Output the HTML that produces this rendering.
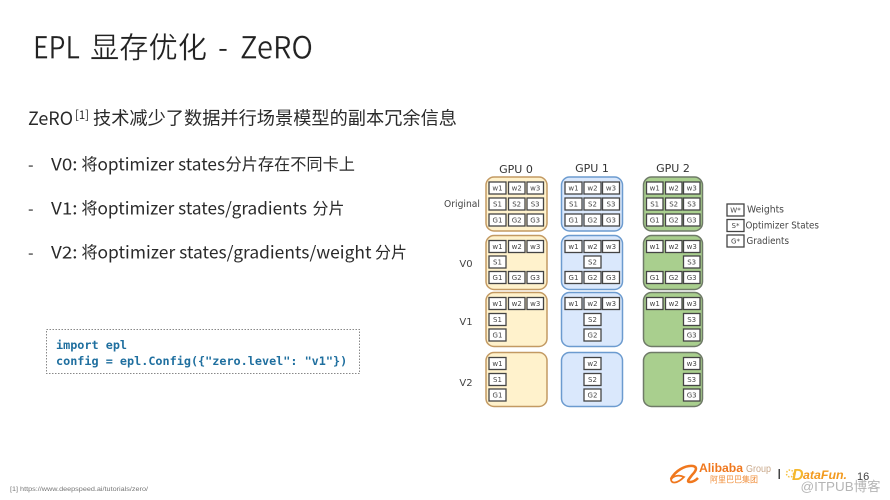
<!DOCTYPE html>
<html><head><meta charset="utf-8"><style>
html,body{margin:0;padding:0;background:#fff}
svg{display:block;font-family:"Liberation Sans","Noto Sans CJK SC",sans-serif;filter:blur(.3px)}
.t{font-family:"Noto Sans CJK SC",sans-serif;fill:#2a2a2a}
.ti{font-family:"Noto Sans CJK SC",sans-serif;fill:#222;stroke:#fff;stroke-width:.3px}
.c rect{fill:#fff;stroke:#444;stroke-width:1.3}
.c text{font-size:7px;fill:#444;text-anchor:middle;font-family:"DejaVu Sans",sans-serif}
.h{font-size:11px;fill:#333;text-anchor:middle;font-family:"DejaVu Sans",sans-serif}
.l{font-size:10px;fill:#444;text-anchor:middle;font-family:"DejaVu Sans",sans-serif}
.y{fill:#fff2cc;stroke:#c39a63;stroke-width:1.5}
.b{fill:#dae8fc;stroke:#6c9bcf;stroke-width:1.5}
.g{fill:#a9cf8e;stroke:#6f7a68;stroke-width:1.5}
</style></head><body>
<svg width="890" height="500" viewBox="0 0 890 500" xmlns="http://www.w3.org/2000/svg">
<rect width="890" height="500" fill="#fff"/>
<text class="ti" x="33" y="58.500" font-size="31" textLength="47" lengthAdjust="spacingAndGlyphs">EPL</text>
<text class="ti" x="90" y="58" font-size="29.500" textLength="117" lengthAdjust="spacingAndGlyphs">显存优化</text>
<text class="ti" x="218" y="58.500" font-size="31" textLength="10" lengthAdjust="spacingAndGlyphs">-</text>
<text class="ti" x="240" y="58.500" font-size="31" textLength="73" lengthAdjust="spacingAndGlyphs">ZeRO</text>

<text class="t" x="28" y="125" font-size="18.500" textLength="45" lengthAdjust="spacingAndGlyphs">ZeRO</text>
<text class="t" x="75" y="119" font-size="12" textLength="14" lengthAdjust="spacingAndGlyphs">[1]</text>
<text class="t" x="93" y="124.500" font-size="18.200" textLength="364" lengthAdjust="spacingAndGlyphs">技术减少了数据并行场景模型的副本冗余信息</text>

<text class="t" x="28" y="170.500" font-size="16">-</text>
<text class="t" x="51" y="170.500" font-size="17" textLength="26.500" lengthAdjust="spacingAndGlyphs">V0:</text>
<text class="t" x="81.500" y="170" font-size="16.200">将</text>
<text class="t" x="97.500" y="170.500" font-size="17" textLength="127.500" lengthAdjust="spacingAndGlyphs">optimizer states</text>
<text class="t" x="225.500" y="170" font-size="16.200" textLength="129.500" lengthAdjust="spacingAndGlyphs">分片存在不同卡上</text>

<text class="t" x="28" y="214.500" font-size="16">-</text>
<text class="t" x="51" y="214.500" font-size="17" textLength="26.500" lengthAdjust="spacingAndGlyphs">V1:</text>
<text class="t" x="81.500" y="214" font-size="16.200">将</text>
<text class="t" x="97.500" y="214.500" font-size="17" textLength="209.500" lengthAdjust="spacingAndGlyphs">optimizer states/gradients</text>
<text class="t" x="312.500" y="214" font-size="16" textLength="32" lengthAdjust="spacingAndGlyphs">分片</text>

<text class="t" x="28" y="258.500" font-size="16">-</text>
<text class="t" x="51" y="258.500" font-size="17" textLength="26.500" lengthAdjust="spacingAndGlyphs">V2:</text>
<text class="t" x="81.500" y="258" font-size="16.200">将</text>
<text class="t" x="97.500" y="258.500" font-size="17" textLength="274" lengthAdjust="spacingAndGlyphs">optimizer states/gradients/weight</text>
<text class="t" x="375" y="258" font-size="16" textLength="32" lengthAdjust="spacingAndGlyphs">分片</text>

<rect x="46.500" y="329.500" width="313" height="44" fill="#fff" stroke="#888" stroke-width="1" stroke-dasharray="1.500 1.500"/>
<g font-family="'DejaVu Sans Mono',monospace" font-weight="bold" font-size="11.800" fill="#1f6f9f">
<text x="56" y="349">import epl</text>
<text x="56" y="365">config = epl.Config({"zero.level": "v1"})</text>
</g>

<text class="h" x="516" y="173">GPU 0</text>
<text class="h" x="592" y="172">GPU 1</text>
<text class="h" x="673" y="172">GPU 2</text>
<text class="l" x="462" y="207" textLength="36" lengthAdjust="spacingAndGlyphs">Original</text>
<text class="l" x="466" y="267">V0</text>
<text class="l" x="466" y="325">V1</text>
<text class="l" x="466" y="386">V2</text>

<rect class="y" x="486" y="177" width="61" height="54" rx="8"/>
<rect class="y" x="486" y="235.500" width="61" height="54" rx="8"/>
<rect class="y" x="486" y="292.500" width="61" height="54" rx="8"/>
<rect class="y" x="486" y="352.500" width="61" height="54" rx="8"/>
<rect class="b" x="561.500" y="177" width="61" height="54" rx="8"/>
<rect class="b" x="561.500" y="235.500" width="61" height="54" rx="8"/>
<rect class="b" x="561.500" y="292.500" width="61" height="54" rx="8"/>
<rect class="b" x="561.500" y="352.500" width="61" height="54" rx="8"/>
<rect class="g" x="643.500" y="177" width="59" height="54" rx="8"/>
<rect class="g" x="643.500" y="235.500" width="59" height="54" rx="8"/>
<rect class="g" x="643.500" y="292.500" width="59" height="54" rx="8"/>
<rect class="g" x="643.500" y="352.500" width="59" height="54" rx="8"/>

<g class="c">
<!-- GPU 0 -->
<rect x="489" y="182" width="17" height="12"/><text x="497.500" y="190.500">w1</text>
<rect x="508.500" y="182" width="16.500" height="12"/><text x="516.700" y="190.500">w2</text>
<rect x="527" y="182" width="16.500" height="12"/><text x="535.200" y="190.500">w3</text>
<rect x="489" y="198" width="17" height="12"/><text x="497.500" y="206.500">S1</text>
<rect x="508.500" y="198" width="16.500" height="12"/><text x="516.700" y="206.500">S2</text>
<rect x="527" y="198" width="16.500" height="12"/><text x="535.200" y="206.500">S3</text>
<rect x="489" y="214" width="17" height="12"/><text x="497.500" y="222.500">G1</text>
<rect x="508.500" y="214" width="16.500" height="12"/><text x="516.700" y="222.500">G2</text>
<rect x="527" y="214" width="16.500" height="12"/><text x="535.200" y="222.500">G3</text>

<rect x="489" y="240.500" width="17" height="12"/><text x="497.500" y="249">w1</text>
<rect x="508.500" y="240.500" width="16.500" height="12"/><text x="516.700" y="249">w2</text>
<rect x="527" y="240.500" width="16.500" height="12"/><text x="535.200" y="249">w3</text>
<rect x="489" y="256" width="17" height="12"/><text x="497.500" y="264.500">S1</text>
<rect x="489" y="271.500" width="17" height="12"/><text x="497.500" y="280">G1</text>
<rect x="508.500" y="271.500" width="16.500" height="12"/><text x="516.700" y="280">G2</text>
<rect x="527" y="271.500" width="16.500" height="12"/><text x="535.200" y="280">G3</text>

<rect x="489" y="297.500" width="17" height="12"/><text x="497.500" y="306">w1</text>
<rect x="508.500" y="297.500" width="16.500" height="12"/><text x="516.700" y="306">w2</text>
<rect x="527" y="297.500" width="16.500" height="12"/><text x="535.200" y="306">w3</text>
<rect x="489" y="313.500" width="17" height="12"/><text x="497.500" y="322">S1</text>
<rect x="489" y="329" width="17" height="12"/><text x="497.500" y="337.500">G1</text>

<rect x="489" y="357.500" width="17" height="12"/><text x="497.500" y="366">w1</text>
<rect x="489" y="373.500" width="17" height="12"/><text x="497.500" y="382">S1</text>
<rect x="489" y="389" width="17" height="12"/><text x="497.500" y="397.500">G1</text>

<!-- GPU 1 -->
<rect x="565" y="182" width="17" height="12"/><text x="573.500" y="190.500">w1</text>
<rect x="584" y="182" width="17" height="12"/><text x="592.500" y="190.500">w2</text>
<rect x="602.500" y="182" width="17" height="12"/><text x="611" y="190.500">w3</text>
<rect x="565" y="198" width="17" height="12"/><text x="573.500" y="206.500">S1</text>
<rect x="584" y="198" width="17" height="12"/><text x="592.500" y="206.500">S2</text>
<rect x="602.500" y="198" width="17" height="12"/><text x="611" y="206.500">S3</text>
<rect x="565" y="214" width="17" height="12"/><text x="573.500" y="222.500">G1</text>
<rect x="584" y="214" width="17" height="12"/><text x="592.500" y="222.500">G2</text>
<rect x="602.500" y="214" width="17" height="12"/><text x="611" y="222.500">G3</text>

<rect x="565" y="240.500" width="17" height="12"/><text x="573.500" y="249">w1</text>
<rect x="584" y="240.500" width="17" height="12"/><text x="592.500" y="249">w2</text>
<rect x="602.500" y="240.500" width="17" height="12"/><text x="611" y="249">w3</text>
<rect x="584" y="256" width="17" height="12"/><text x="592.500" y="264.500">S2</text>
<rect x="565" y="271.500" width="17" height="12"/><text x="573.500" y="280">G1</text>
<rect x="584" y="271.500" width="17" height="12"/><text x="592.500" y="280">G2</text>
<rect x="602.500" y="271.500" width="17" height="12"/><text x="611" y="280">G3</text>

<rect x="565" y="297.500" width="17" height="12"/><text x="573.500" y="306">w1</text>
<rect x="584" y="297.500" width="17" height="12"/><text x="592.500" y="306">w2</text>
<rect x="602.500" y="297.500" width="17" height="12"/><text x="611" y="306">w3</text>
<rect x="584" y="313.500" width="17" height="12"/><text x="592.500" y="322">S2</text>
<rect x="584" y="329" width="17" height="12"/><text x="592.500" y="337.500">G2</text>

<rect x="584" y="357.500" width="17" height="12"/><text x="592.500" y="366">w2</text>
<rect x="584" y="373.500" width="17" height="12"/><text x="592.500" y="382">S2</text>
<rect x="584" y="389" width="17" height="12"/><text x="592.500" y="397.500">G2</text>

<!-- GPU 2 -->
<rect x="646.500" y="182" width="16.500" height="12"/><text x="654.700" y="190.500">w1</text>
<rect x="665.500" y="182" width="16.500" height="12"/><text x="673.700" y="190.500">w2</text>
<rect x="683.500" y="182" width="16.500" height="12"/><text x="691.700" y="190.500">w3</text>
<rect x="646.500" y="198" width="16.500" height="12"/><text x="654.700" y="206.500">S1</text>
<rect x="665.500" y="198" width="16.500" height="12"/><text x="673.700" y="206.500">S2</text>
<rect x="683.500" y="198" width="16.500" height="12"/><text x="691.700" y="206.500">S3</text>
<rect x="646.500" y="214" width="16.500" height="12"/><text x="654.700" y="222.500">G1</text>
<rect x="665.500" y="214" width="16.500" height="12"/><text x="673.700" y="222.500">G2</text>
<rect x="683.500" y="214" width="16.500" height="12"/><text x="691.700" y="222.500">G3</text>

<rect x="646.500" y="240.500" width="16.500" height="12"/><text x="654.700" y="249">w1</text>
<rect x="665.500" y="240.500" width="16.500" height="12"/><text x="673.700" y="249">w2</text>
<rect x="683.500" y="240.500" width="16.500" height="12"/><text x="691.700" y="249">w3</text>
<rect x="683.500" y="256" width="16.500" height="12"/><text x="691.700" y="264.500">S3</text>
<rect x="646.500" y="271.500" width="16.500" height="12"/><text x="654.700" y="280">G1</text>
<rect x="665.500" y="271.500" width="16.500" height="12"/><text x="673.700" y="280">G2</text>
<rect x="683.500" y="271.500" width="16.500" height="12"/><text x="691.700" y="280">G3</text>

<rect x="646.500" y="297.500" width="16.500" height="12"/><text x="654.700" y="306">w1</text>
<rect x="665.500" y="297.500" width="16.500" height="12"/><text x="673.700" y="306">w2</text>
<rect x="683.500" y="297.500" width="16.500" height="12"/><text x="691.700" y="306">w3</text>
<rect x="683.500" y="313.500" width="16.500" height="12"/><text x="691.700" y="322">S3</text>
<rect x="683.500" y="329" width="16.500" height="12"/><text x="691.700" y="337.500">G3</text>

<rect x="683.500" y="357.500" width="16.500" height="12"/><text x="691.700" y="366">w3</text>
<rect x="683.500" y="373.500" width="16.500" height="12"/><text x="691.700" y="382">S3</text>
<rect x="683.500" y="389" width="16.500" height="12"/><text x="691.700" y="397.500">G3</text>

<!-- Legend -->
<rect x="727" y="204" width="17" height="12"/><text x="735.500" y="212.500">W*</text>
<rect x="727" y="219.500" width="17" height="12"/><text x="735.500" y="228">S*</text>
<rect x="727" y="235" width="17" height="12"/><text x="735.500" y="243.500">G*</text>
</g>
<g font-family="'DejaVu Sans',sans-serif" font-size="9.500" fill="#444">
<text x="747" y="212.500" textLength="37" lengthAdjust="spacingAndGlyphs">Weights</text>
<text x="745.500" y="228.500" textLength="73.500" lengthAdjust="spacingAndGlyphs">Optimizer States</text>
<text x="746.500" y="244" textLength="42.500" lengthAdjust="spacingAndGlyphs">Gradients</text>
</g>

<text x="10" y="491" font-size="6.200" fill="#777" textLength="138" lengthAdjust="spacingAndGlyphs">[1] https://www.deepspeed.ai/tutorials/zero/</text>

<!-- Logos -->
<path d="M671 479 C675 471 685 465 693 466 C698 467 696 471 692 475 C689 479 686 482 690 482 C693 482 696 480 698 478" fill="none" stroke="#f0781e" stroke-width="2.600"/>
<path d="M671 479 C671 484 677 484 684 477 C680 475 675 475 671 479Z" fill="none" stroke="#f0781e" stroke-width="1.800"/>
<text x="699" y="472" font-size="11.500" font-weight="bold" fill="#f0781e" textLength="44" lengthAdjust="spacingAndGlyphs">Alibaba</text>
<text x="746" y="472" font-size="10" fill="#c9a88a" textLength="25" lengthAdjust="spacingAndGlyphs">Group</text>
<text x="710" y="482.500" font-size="8.500" fill="#f0903e" font-family="'Noto Sans CJK SC',sans-serif" textLength="48" lengthAdjust="spacingAndGlyphs">阿里巴巴集团</text>
<rect x="778.500" y="469" width="1.500" height="10" fill="#444"/>
<circle cx="790" cy="473.500" r="3.500" fill="none" stroke="#f5c242" stroke-width="1.500" stroke-dasharray="1.500 1.500"/>
<text x="792" y="480" font-size="16" font-weight="bold" font-style="italic" fill="#f5b82e">D</text>
<text x="803" y="479" font-size="11.500" font-weight="bold" font-style="italic" fill="#f29a1f" textLength="44" lengthAdjust="spacingAndGlyphs">ataFun.</text>
<text x="857" y="480" font-size="11" fill="#444">16</text>
<text x="800.500" y="491" font-size="13" fill="#b5b5b5" font-family="'Liberation Sans','Noto Sans CJK SC',sans-serif" textLength="80" lengthAdjust="spacingAndGlyphs">@ITPUB博客</text>
</svg>
</body></html>
